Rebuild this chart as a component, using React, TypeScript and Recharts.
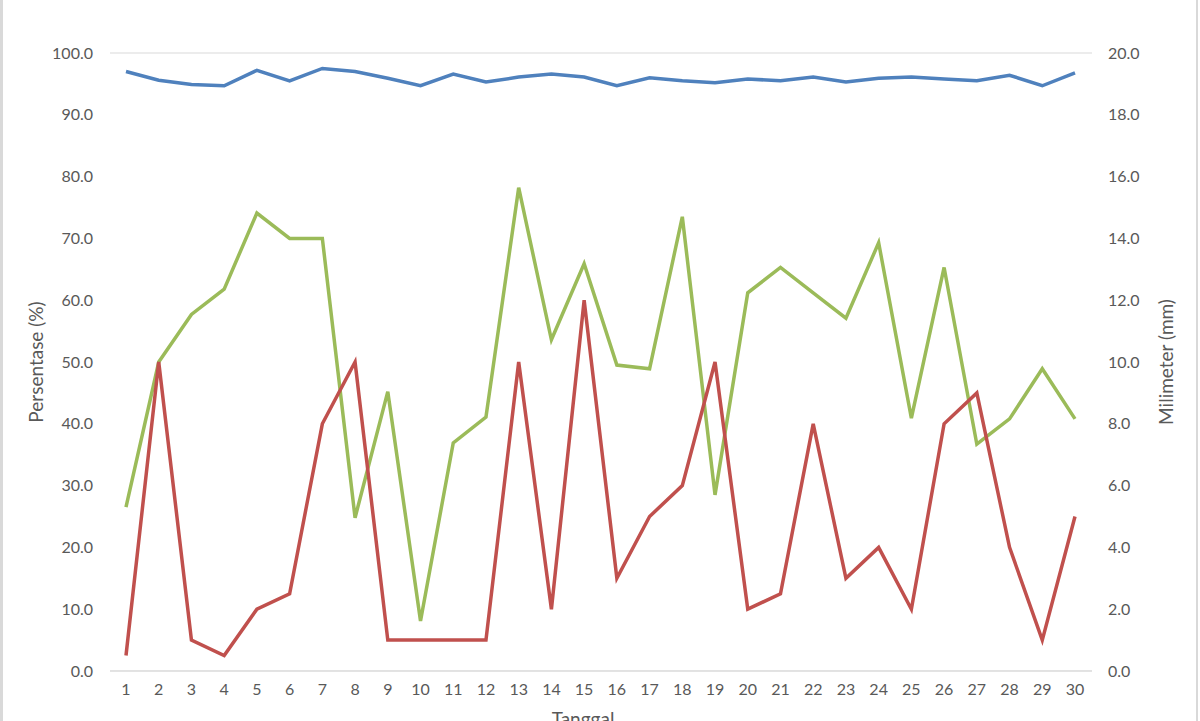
import { LineChart, Line, XAxis, YAxis, CartesianGrid, Label } from "recharts";

const days = Array.from({ length: 30 }, (_, i) => String(i + 1));

// left axis (%)
const blueSeries = [
  97.0, 95.6, 94.9, 94.7, 97.2, 95.5, 97.5, 97.0, 95.9, 94.7,
  96.6, 95.3, 96.1, 96.6, 96.1, 94.7, 96.0, 95.5, 95.2, 95.8,
  95.5, 96.1, 95.3, 95.9, 96.1, 95.8, 95.5, 96.4, 94.7, 96.8,
];
const greenSeries = [
  26.5, 50.0, 57.7, 61.8, 74.1, 70.0, 70.0, 24.8, 45.2, 8.1,
  36.9, 41.1, 78.2, 53.6, 65.9, 49.5, 48.9, 73.5, 28.5, 61.2,
  65.3, 61.2, 57.1, 69.3, 40.9, 65.3, 36.7, 40.8, 48.9, 40.8,
];
// right axis (mm)
const redSeries = [
  0.5, 10, 1, 0.5, 2, 2.5, 8, 10, 1, 1,
  1, 1, 10, 2, 12, 3, 5, 6, 10, 2,
  2.5, 8, 3, 4, 2, 8, 9, 4, 1, 5,
];

const leftTicks = [0, 10, 20, 30, 40, 50, 60, 70, 80, 90, 100];
const rightTicks = [0, 2, 4, 6, 8, 10, 12, 14, 16, 18, 20];

const rows = days.map((d, i) => ({
  day: d,
  blue: blueSeries[i],
  green: greenSeries[i],
  red: redSeries[i],
}));

const FONT = "Lato, 'Open Sans', sans-serif";
const TEXT = "#595959";
const GRID = "#d9d9d9";
const tick = { fill: TEXT, fontSize: 16, fontFamily: FONT };

export default function App() {
  return (
    <div style={{ position: "fixed", left: 0, top: 0, width: 1200, height: 721, background: "#fff", overflow: "hidden" }}>
      <div style={{ position: "absolute", left: 0, top: 0, width: 1193, height: 721, borderLeft: "3px solid #d9d9d9", borderRight: "2px solid #d9d9d9" }} />
      <LineChart width={1200} height={721} data={rows} margin={{ top: 53, right: 38, left: 50, bottom: 10 }}>
        <CartesianGrid vertical={false} stroke={GRID} strokeWidth={1} />
        <XAxis
          dataKey="day"
          padding={{ left: 16, right: 17 }}
          stroke={GRID}
          tickLine={false}
          tickSize={0}
          tickMargin={13}
          tick={tick}
          height={40}
          interval={0}
        >
          <Label value="Tanggal" position="bottom" offset={2} dx={-18} style={{ fill: TEXT, fontSize: 19, fontFamily: FONT }} />
        </XAxis>
        <YAxis
          yAxisId="left"
          domain={[0, 100]}
          ticks={leftTicks}
          tickFormatter={(v: number) => v.toFixed(1)}
          axisLine={false}
          tickLine={false}
          tickSize={0}
          tickMargin={17}
          tick={tick}
          width={60}
        >
          <Label value="Persentase (%)" angle={-90} position="insideLeft" offset={-14} style={{ fill: TEXT, fontSize: 19, fontFamily: FONT, textAnchor: "middle" }} />
        </YAxis>
        <YAxis
          yAxisId="right"
          orientation="right"
          domain={[0, 20]}
          ticks={rightTicks}
          tickFormatter={(v: number) => v.toFixed(1)}
          axisLine={false}
          tickLine={false}
          tickSize={0}
          tickMargin={16}
          tick={{ ...tick, textAnchor: "start" }}
          width={70}
        >
          <Label value="Milimeter (mm)" angle={-90} position="insideRight" offset={-4} style={{ fill: TEXT, fontSize: 19, fontFamily: FONT, textAnchor: "middle" }} />
        </YAxis>
        <Line yAxisId="left" type="linear" dataKey="blue" stroke="#4f81bd" strokeWidth={3.5} dot={false} isAnimationActive={false} />
        <Line yAxisId="left" type="linear" dataKey="green" stroke="#9bbb59" strokeWidth={3.5} dot={false} isAnimationActive={false} />
        <Line yAxisId="right" type="linear" dataKey="red" stroke="#c0504d" strokeWidth={3.5} dot={false} isAnimationActive={false} />
      </LineChart>
    </div>
  );
}
